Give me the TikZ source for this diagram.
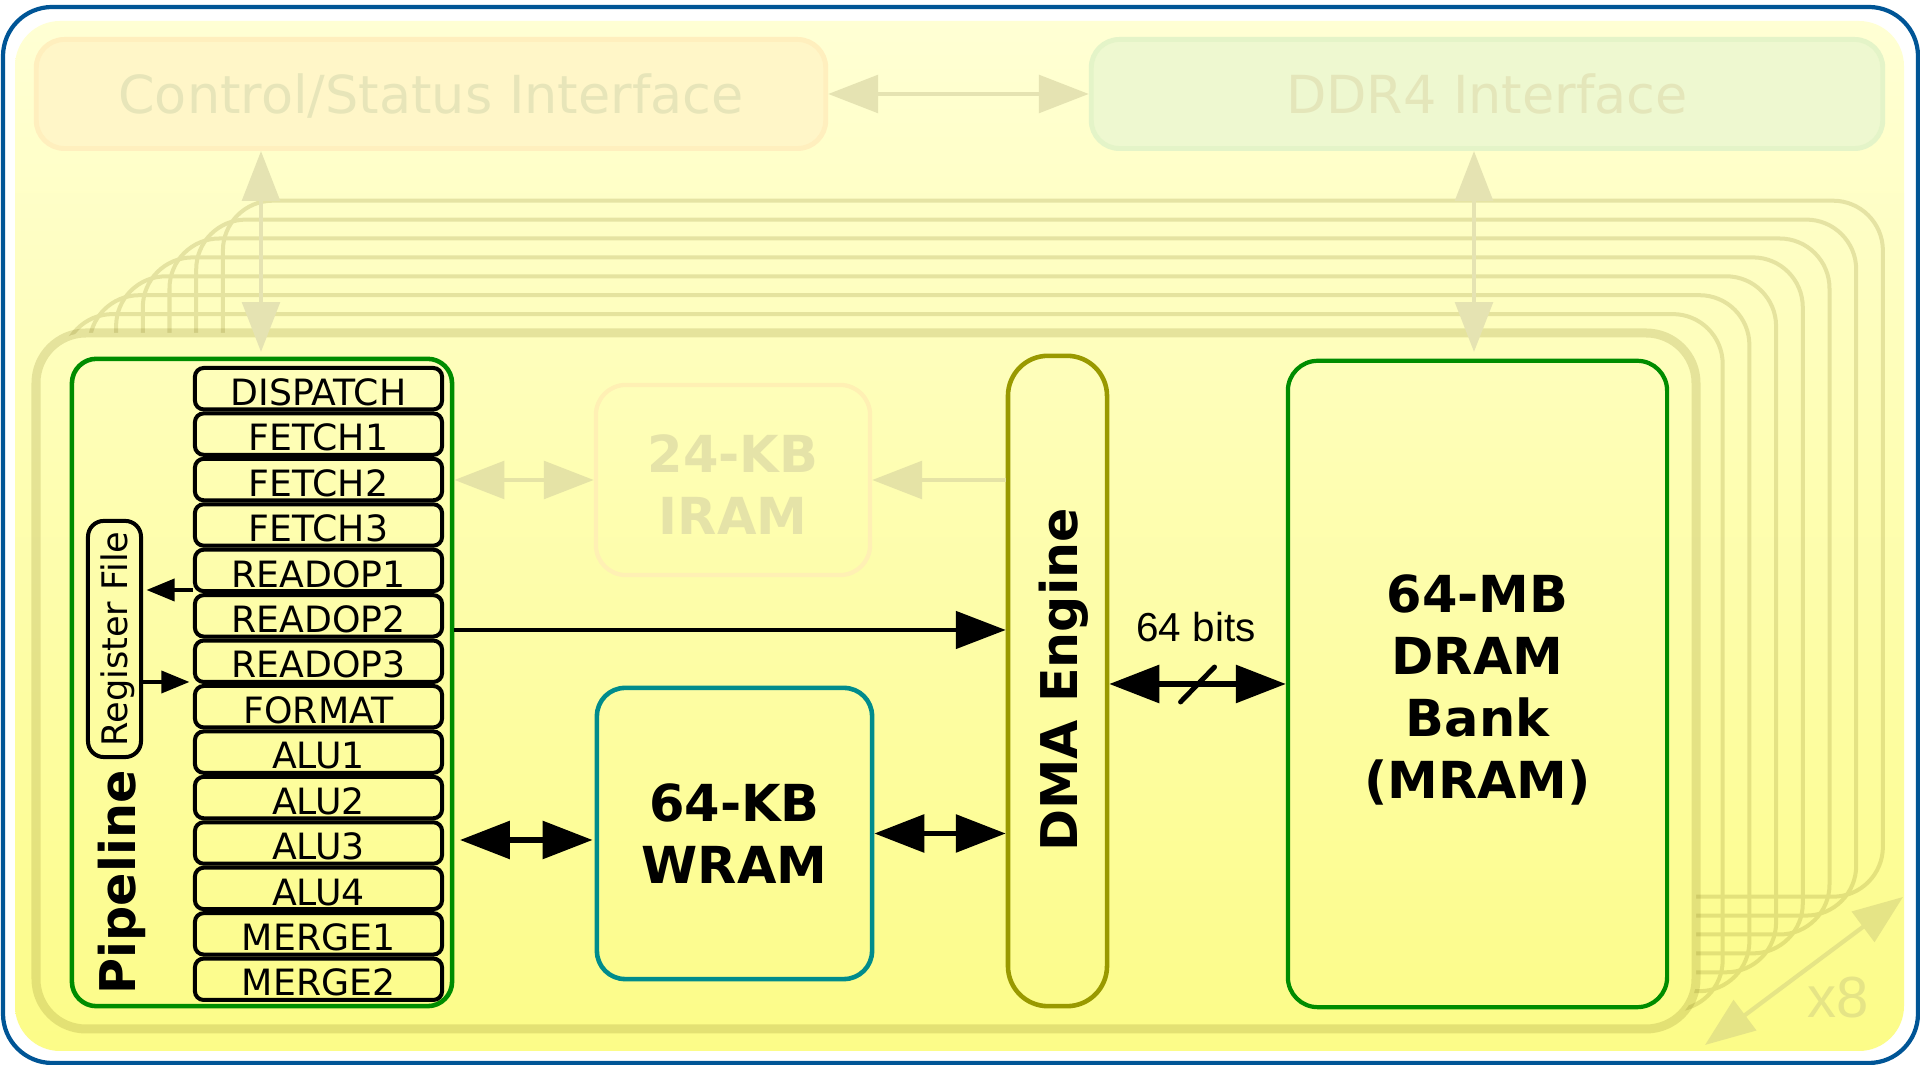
\documentclass[tikz,border=0pt]{standalone}
\usepackage{fontspec}
\setmainfont{DejaVu Sans}
\newfontfamily\arialf{Liberation Sans}
\usetikzlibrary{arrows.meta,calc}
\definecolor{frameblue}{RGB}{0,85,150}
\definecolor{bgtop}{RGB}{255,255,212}
\definecolor{bgbot}{RGB}{252,252,136}
\definecolor{cardc}{RGB}{130,120,28}
\definecolor{fadeA}{RGB}{229,227,178}
\definecolor{fadeB}{RGB}{229,227,166}
\definecolor{fadeX}{RGB}{229,228,134}
\definecolor{ctrlfill}{RGB}{255,246,200}
\definecolor{ctrldraw}{RGB}{255,239,190}
\definecolor{ctrltext}{RGB}{231,229,185}
\definecolor{ddrfill}{RGB}{238,248,208}
\definecolor{ddrdraw}{RGB}{228,244,200}
\definecolor{ddrtext}{RGB}{228,230,186}
\definecolor{iramdraw}{RGB}{255,240,180}
\definecolor{iramtext}{RGB}{229,227,168}
\definecolor{pgreen}{RGB}{0,140,0}
\definecolor{dmaolive}{RGB}{153,153,0}
\definecolor{wramteal}{RGB}{0,140,140}
\begin{document}
\begin{tikzpicture}[x=0.01cm,y=-0.01cm,
  bigtip/.tip={Triangle[length=14.2pt,width=10.6pt]},
  smalltip/.tip={Triangle[length=8pt,width=6.3pt]},
  stagebox/.style={draw, line width=1.14pt, rounded corners=2.5pt, minimum width=2.47cm,
    minimum height=0.414cm, inner sep=0pt, font=\fontsize{10.3}{12}\selectfont,
    text height=9.44pt, text depth=0pt},
  ifbox/.style={line width=1.4pt, rounded corners=8pt, minimum height=1.09cm, inner sep=0pt,
    font=\fontsize{14.9}{18}\selectfont, text height=10.86pt, text depth=0pt},
  bigtext/.style={font=\fontsize{14.5}{17.6}\selectfont\bfseries, align=center},
  fadearrow/.style={line width=1.4pt, {bigtip}-{bigtip}},
  blkarrow/.style={line width=1.45pt, {bigtip}-{bigtip}},
]
\useasboundingbox (0,0) rectangle (1920,1065);
\fill[white] (0,0) rectangle (1920,1065);
% outer frame and background
\draw[frameblue, line width=1.2pt, rounded corners=14pt] (3,7) rectangle (1918,1063);
\shade[top color=bgtop, bottom color=bgbot, rounded corners=12.8pt] (15,21) rectangle (1904,1051);

% stacked cards behind
\begin{scope}[transparency group, opacity=0.2]
\foreach \k in {7,6,...,1}
  \draw[cardc, line width=1.14pt, rounded corners=14.2pt]
    ({36+26.7*\k},{333-18.9*\k}) rectangle ({1696+26.7*\k},{1029-18.9*\k});
\end{scope}
% front card
\begin{scope}
\clip[rounded corners=14.2pt] (36,333) rectangle (1696,1029);
\shade[top color=bgtop, bottom color=bgbot] (15,21) rectangle (1904,1051);
\end{scope}
\draw[cardc, opacity=0.2, line width=2.56pt, rounded corners=14.2pt] (36,333) rectangle (1696,1029);

% interfaces
\node[ifbox, draw=ctrldraw, fill=ctrlfill, text=ctrltext, minimum width=7.89cm] (ctrl) at (431,94) {Control/Status Interface};
\node[ifbox, draw=ddrdraw, fill=ddrfill, text=ddrtext, minimum width=7.91cm] (ddr) at (1487,94) {DDR4 Interface};
\draw[fadeA, fadearrow] (ctrl.east) -- (ddr.west);
\coordinate (cA) at (261,352);
\coordinate (cB) at (1474,352);
\draw[fadeA, fadearrow] (cA |- ctrl.south) -- (cA);
\draw[fadeA, fadearrow] (cB |- ddr.south) -- (cB);

% pipeline
\node[draw=pgreen, line width=1.3pt, rounded corners=7pt, minimum width=3.8cm, minimum height=6.47cm] (pipe) at (262,682.5) {};
\foreach \t [count=\i] in {DISPATCH,FETCH1,FETCH2,FETCH3,READOP1,READOP2,READOP3,FORMAT,ALU1,ALU2,ALU3,ALU4,MERGE1,MERGE2}
  \node[stagebox] (s\i) at (318.5,{388.7+45.43*(\i-1)}) {\t};
\node[draw, line width=1.14pt, rounded corners=4.5pt, rotate=90, minimum width=2.36cm, minimum height=0.53cm,
  inner sep=0pt, font=\fontsize{10}{12}\selectfont, text height=7.3pt, text depth=0pt] (reg) at (114.5,639) {Register File};
\node[rotate=90, anchor=base west, inner sep=0pt, font=\fontsize{14}{16}\selectfont\bfseries] (pl) at (135,995) {Pipeline};
\coordinate (r1) at (0,590);
\coordinate (r3) at (0,682);
% the rotated node: its south anchor is its right side
\draw[line width=1pt, -{smalltip}] (s5.west |- r1) -- ([xshift=1pt]reg.south |- r1);
\draw[line width=1pt, -{smalltip}] (reg.south |- r3) -- ([xshift=-1pt]s7.west |- r3);

% IRAM
\node[draw=iramdraw, line width=1.2pt, rounded corners=8.5pt, minimum width=2.74cm, minimum height=1.9cm] (iram) at (733,480) {};
\node[bigtext, text=iramtext, inner sep=0pt] (iramt) at (733,485) {24-KB\\IRAM};
% WRAM
\node[draw=wramteal, line width=1.3pt, rounded corners=8pt, minimum width=2.75cm, minimum height=2.91cm,
  bigtext] (wram) at (734.5,833.5) {64-KB\\WRAM};
% DMA
\node[draw=dmaolive, line width=1.3pt, rounded corners=11.4pt, minimum width=0.99cm, minimum height=6.5cm] (dma) at (1057.5,681) {};
\node[rotate=90, inner sep=0pt, font=\fontsize{14.4}{17}\selectfont\bfseries, text height=10.5pt, text depth=0pt] (dmat) at (1059.5,680) {DMA Engine};
% DRAM
\node[draw=pgreen, line width=1.2pt, rounded corners=8.5pt, minimum width=3.79cm, minimum height=6.46cm] (dram) at (1477.5,684) {};
\node[bigtext, inner sep=0pt] (dramt) at (1477.5,690) {64-MB\\DRAM\\Bank\\(MRAM)};

% connections
\coordinate (rd2) at (0,630);
\draw[line width=1.15pt, -{bigtip}] (pipe.east |- rd2) -- (dma.west |- rd2);
\draw[fadeB, fadearrow] (pipe.east |- iram.west) -- (iram.west);
\draw[fadeB, line width=1.4pt, -{bigtip}] (dma.west |- iram.east) -- (iram.east);
\coordinate (pw) at (0,840);
\draw[blkarrow, shorten <=1.6pt, shorten >=0.6pt] (pipe.east |- pw) -- (wram.west |- pw);
\draw[blkarrow] (wram.east) -- (wram.east -| dma.west);
\draw[blkarrow] (dma.east |- dram.west) -- (dram.west);
\coordinate (mid) at ($(dma.east |- dram.west)!0.5!(dram.west)$);
\draw[line width=1.4pt, line cap=round] ($(mid)+(-17,18)$) -- ($(mid)+(17,-17)$);
\node[anchor=base, inner sep=0pt, font=\arialf\fontsize{11.5}{13}\selectfont] (bits) at (1196,642) {64 bits};

% x8
\coordinate (xa) at (1705,1045);
\coordinate (xb) at (1903,897);
\draw[fadeX, line width=1.2pt, {bigtip}-{bigtip}] (xa) -- (xb);
\node[anchor=base, inner sep=0pt, text=fadeX, font=\arialf\fontsize{16.5}{18}\selectfont] (x8) at (1838,1018) {x8};
\end{tikzpicture}
\end{document}
